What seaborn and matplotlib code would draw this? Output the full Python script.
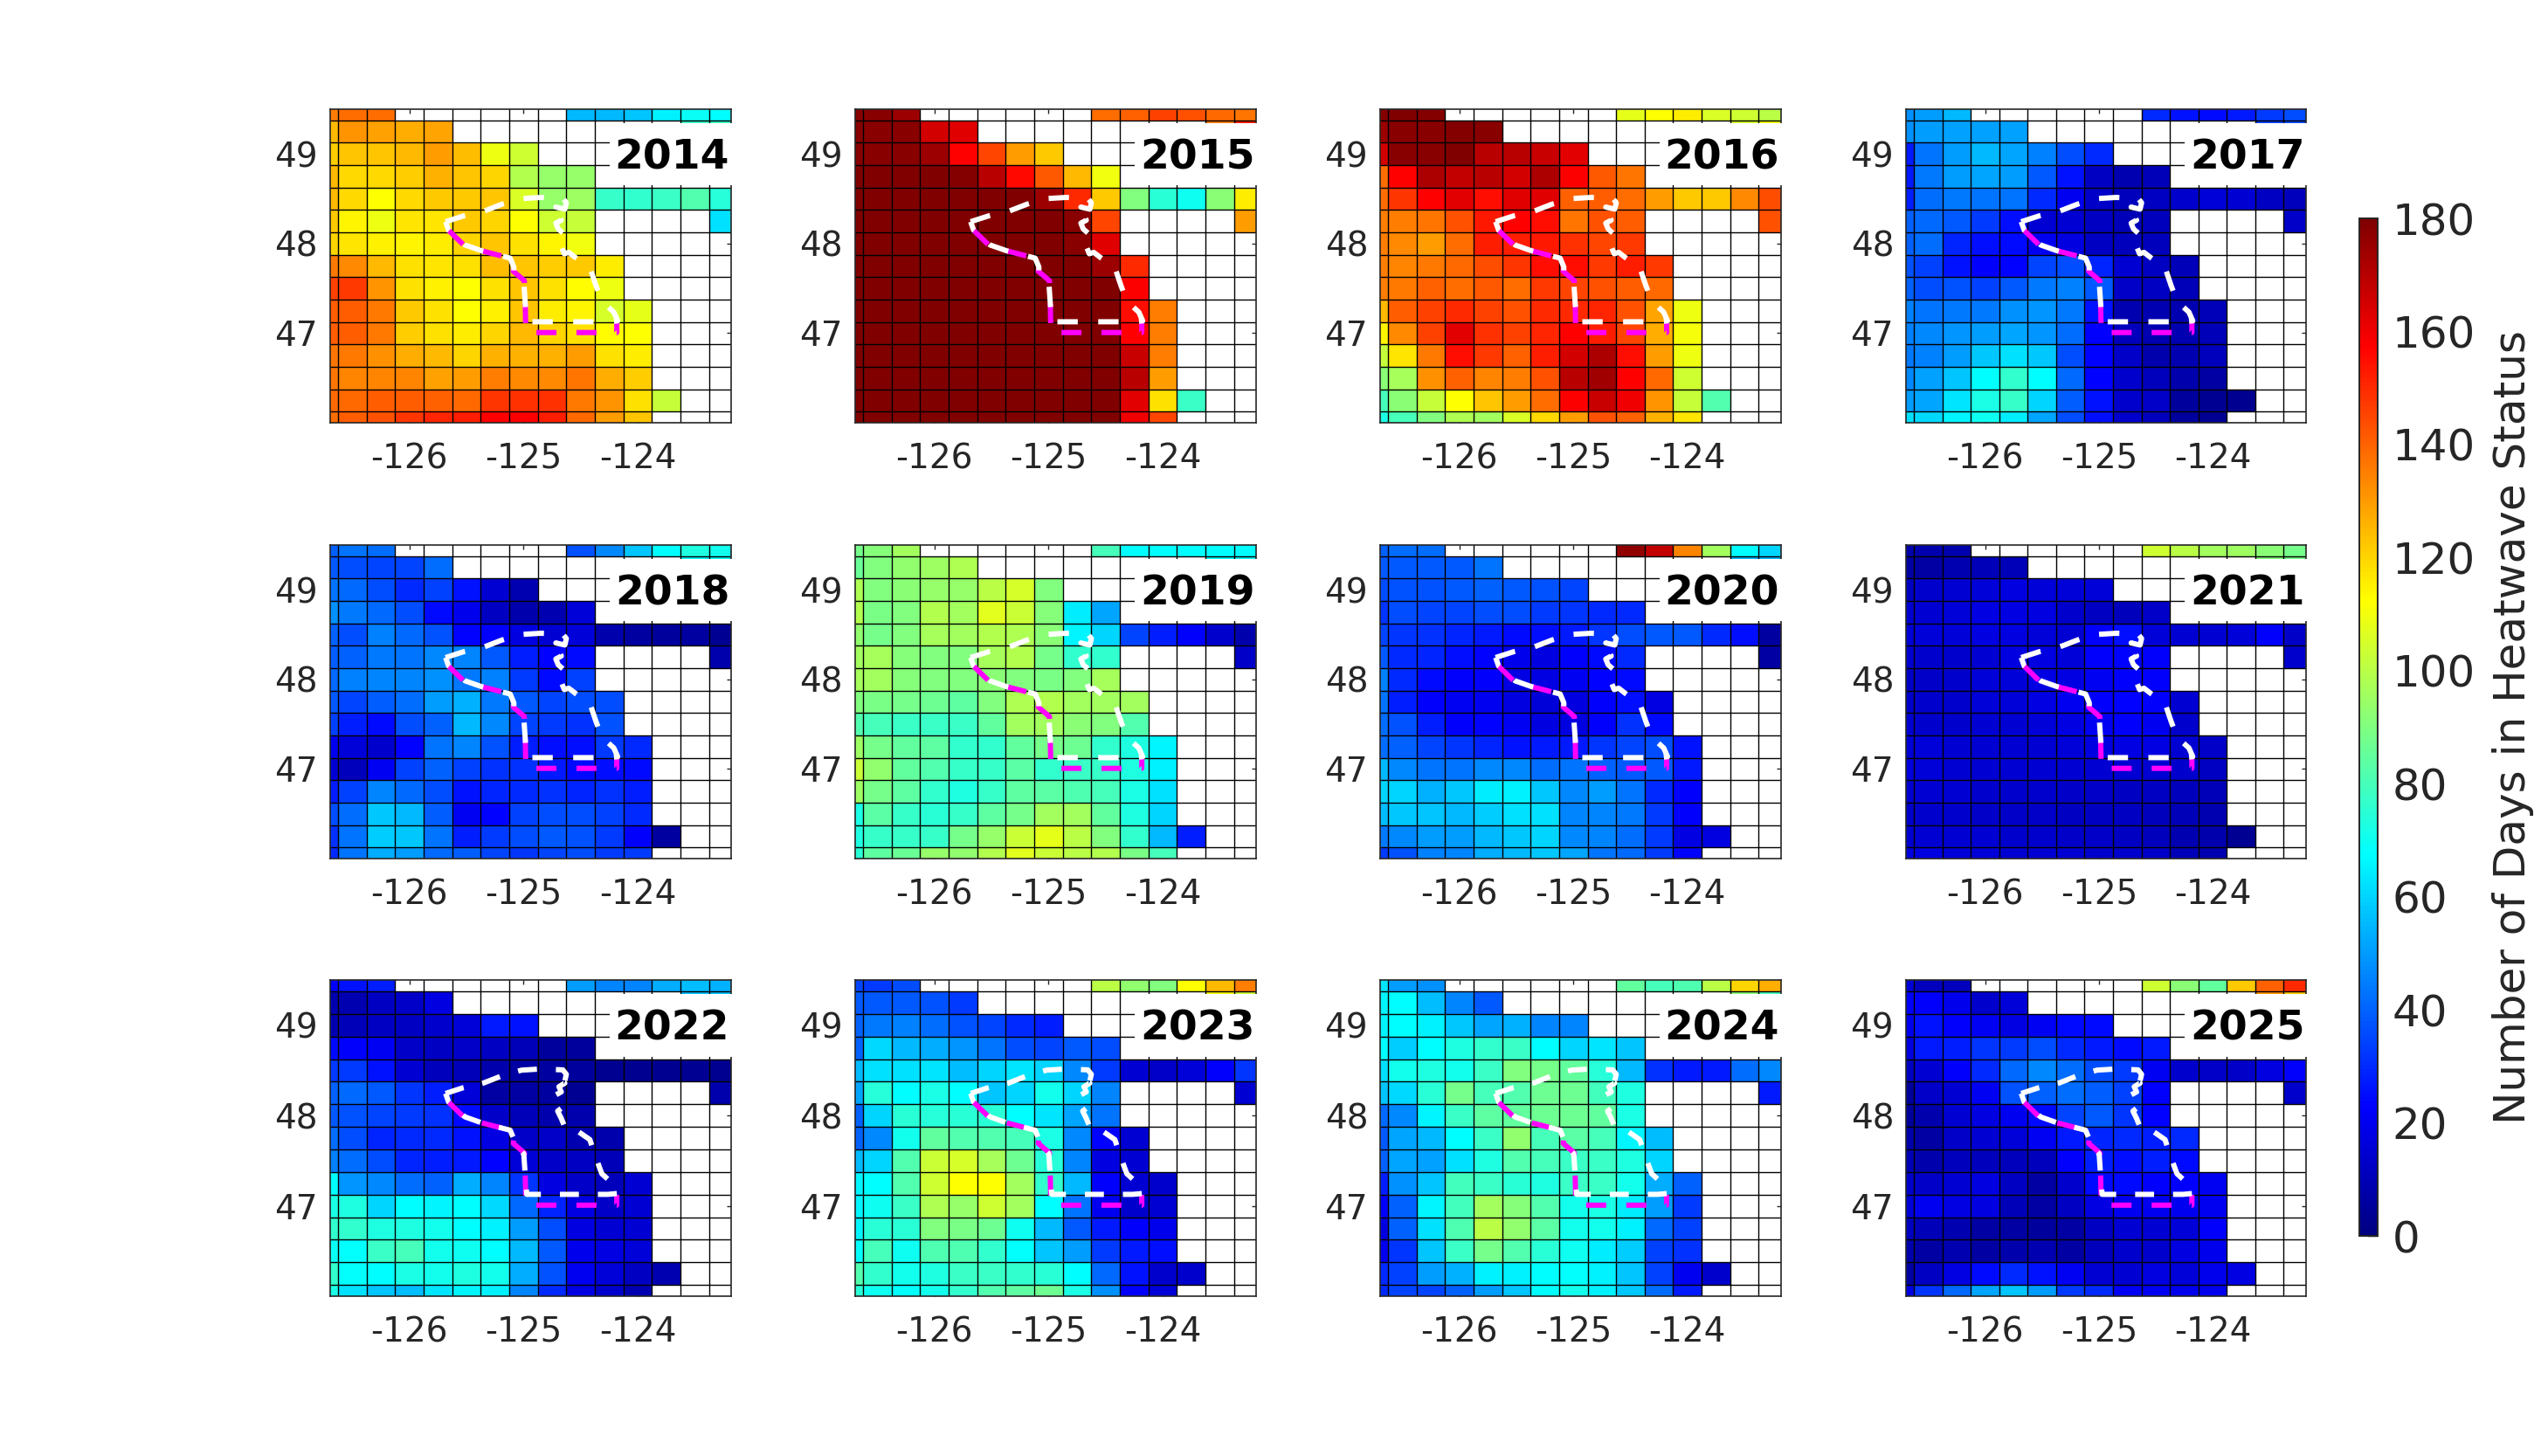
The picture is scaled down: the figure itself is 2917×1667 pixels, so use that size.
import numpy as np
import pandas as pd
import matplotlib
matplotlib.use("Agg")
import matplotlib.pyplot as plt
from matplotlib.colors import LinearSegmentedColormap, Normalize
from matplotlib.cm import ScalarMappable
from matplotlib.patches import Rectangle
import seaborn as sns

years = [2014, 2015, 2016, 2017, 2018, 2019, 2020, 2021, 2022, 2023, 2024, 2025]

# grid cell centres: -126.75 ... -123.25 E, 49.5 ... 46.0 N (0.25 degree cells)
valid_cols = [
    [0, 1, 2, 9, 10, 11, 12, 13, 14],
    [0, 1, 2, 3, 4, 13, 14],
    list(range(8)),
    list(range(10)),
    list(range(15)),
    list(range(10)) + [14],
    list(range(10)),
    list(range(11)),
    list(range(11)),
    list(range(12)),
    list(range(12)),
    list(range(12)),
    list(range(12)),
    list(range(13)),
    list(range(12)),
]

days_2014 = [
    [135, 138, 138, 55, 55, 57, 65, 69, 67],
    [125, 131, 129, 127, 128, 78, 78],
    [121, 123, 123, 125, 130, 124, 109, 104],
    [125, 119, 119, 121, 126, 123, 120, 99, 94, 94],
    [125, 119, 112, 119, 122, 122, 123, 106, 94, 95, 77, 76, 78, 82, 74],
    [122, 114, 109, 117, 117, 122, 120, 112, 104, 102, 62],
    [120, 117, 115, 114, 116, 120, 123, 118, 114, 110],
    [136, 133, 125, 118, 117, 118, 124, 123, 121, 122, 116],
    [146, 147, 131, 118, 115, 112, 118, 123, 118, 113, 109],
    [141, 141, 136, 122, 118, 112, 115, 123, 116, 114, 105, 108],
    [141, 141, 136, 121, 118, 116, 120, 125, 120, 118, 113, 112],
    [137, 136, 132, 127, 125, 120, 126, 126, 126, 130, 118, 116],
    [137, 134, 134, 134, 129, 130, 135, 133, 133, 137, 127, 121],
    [139, 139, 141, 141, 140, 139, 148, 149, 149, 136, 131, 118, 102],
    [138, 141, 143, 148, 151, 152, 157, 157, 152, 139, 130, 123],
]
days_2015 = [
    [178, 178, 175, 138, 140, 146, 143, 139, 137],
    [178, 178, 178, 165, 163, 135, 152],
    [178, 178, 178, 175, 157, 145, 130, 122],
    [180, 180, 180, 180, 179, 170, 156, 142, 125, 110],
    [180, 180, 180, 180, 180, 180, 180, 175, 150, 122, 90, 75, 70, 92, 116],
    [180, 180, 180, 180, 180, 180, 180, 180, 178, 145, 130],
    [180, 180, 180, 180, 180, 180, 180, 180, 178, 163],
    [180, 180, 180, 180, 180, 180, 180, 180, 180, 175, 150],
    [180, 180, 180, 180, 180, 180, 180, 180, 180, 180, 158],
    [180, 180, 180, 180, 180, 180, 180, 180, 180, 180, 155, 135],
    [180, 180, 180, 180, 180, 180, 180, 180, 180, 180, 157, 135],
    [180, 180, 180, 180, 180, 180, 180, 180, 180, 180, 167, 135],
    [180, 180, 180, 180, 180, 180, 180, 180, 180, 180, 170, 130],
    [180, 180, 180, 180, 180, 180, 180, 180, 180, 180, 162, 118, 78],
    [180, 180, 180, 180, 180, 180, 180, 180, 180, 180, 160, 145],
]
days_2016 = [
    [179, 180, 179, 108, 112, 116, 106, 104, 100],
    [175, 178, 178, 179, 178, 105, 110],
    [165, 178, 178, 180, 170, 170, 167, 162],
    [138, 157, 172, 168, 170, 165, 172, 158, 142, 137],
    [138, 148, 157, 162, 155, 163, 163, 140, 141, 138, 130, 122, 122, 133, 144],
    [135, 135, 137, 143, 153, 157, 155, 137, 143, 141, 143],
    [135, 133, 130, 138, 152, 152, 153, 149, 145, 147],
    [135, 134, 136, 139, 144, 148, 155, 155, 147, 152, 147],
    [135, 136, 140, 138, 142, 138, 147, 145, 143, 141, 139],
    [125, 141, 146, 150, 146, 143, 150, 150, 151, 143, 128, 109],
    [114, 133, 146, 162, 149, 146, 151, 157, 152, 145, 127, 111],
    [102, 117, 136, 155, 147, 140, 152, 165, 172, 155, 130, 109],
    [92, 97, 132, 140, 134, 135, 143, 170, 174, 157, 139, 104],
    [80, 92, 102, 112, 123, 130, 138, 158, 167, 160, 131, 102, 82],
    [72, 80, 90, 98, 96, 106, 119, 130, 143, 140, 126, 117],
]
days_2017 = [
    [48, 50, 55, 30, 26, 24, 27, 33, 36],
    [48, 50, 51, 51, 51, 35, 36],
    [27, 43, 50, 55, 52, 45, 36, 30],
    [27, 44, 50, 52, 50, 38, 26, 12, 9, 10],
    [28, 42, 44, 43, 43, 30, 20, 13, 11, 12, 14, 16, 15, 12, 11],
    [40, 41, 38, 33, 25, 15, 15, 12, 10, 11, 13],
    [40, 42, 29, 25, 24, 20, 17, 12, 11, 11],
    [37, 34, 26, 22, 23, 35, 36, 29, 15, 12, 10],
    [40, 36, 37, 34, 38, 44, 45, 38, 13, 12, 10],
    [45, 43, 44, 44, 48, 49, 44, 26, 9, 9, 9, 10],
    [45, 47, 49, 50, 52, 49, 42, 22, 11, 9, 9, 10],
    [44, 45, 50, 58, 62, 58, 36, 23, 13, 8, 9, 11],
    [47, 51, 57, 67, 76, 67, 41, 23, 14, 11, 8, 7],
    [50, 52, 63, 72, 77, 60, 39, 26, 14, 13, 5, 4, 3],
    [62, 61, 66, 70, 64, 52, 36, 25, 14, 11, 5, 4],
]
days_2018 = [
    [40, 43, 42, 37, 47, 57, 67, 73, 71],
    [38, 36, 35, 35, 42, 67, 67],
    [43, 41, 36, 30, 34, 26, 15, 9],
    [48, 44, 41, 36, 24, 19, 12, 8, 9, 16],
    [40, 36, 45, 41, 37, 23, 22, 17, 15, 16, 8, 6, 5, 6, 4],
    [39, 40, 44, 43, 47, 46, 38, 28, 23, 24, 8],
    [41, 45, 46, 46, 48, 44, 45, 33, 24, 34],
    [38, 35, 39, 42, 50, 54, 44, 38, 35, 36, 36],
    [34, 28, 24, 36, 40, 55, 47, 35, 33, 31, 37],
    [20, 16, 14, 23, 43, 46, 37, 28, 25, 25, 33, 30],
    [15, 11, 21, 34, 40, 34, 31, 31, 27, 24, 25, 24],
    [28, 34, 46, 41, 36, 26, 29, 30, 31, 29, 31, 28],
    [36, 42, 58, 55, 39, 21, 23, 34, 36, 36, 34, 30],
    [31, 43, 59, 58, 43, 28, 33, 36, 38, 37, 33, 22, 6],
    [30, 43, 53, 50, 41, 39, 35, 32, 35, 36, 33, 33],
]
days_2019 = [
    [88, 91, 96, 80, 67, 67, 67, 67, 67],
    [86, 90, 93, 95, 98, 67, 67],
    [98, 90, 92, 94, 94, 100, 105, 90],
    [99, 89, 90, 99, 96, 107, 103, 91, 64, 52],
    [93, 88, 90, 97, 96, 99, 98, 92, 66, 60, 35, 28, 22, 14, 8],
    [96, 97, 91, 90, 90, 97, 99, 88, 76, 76, 13],
    [97, 96, 91, 90, 90, 92, 90, 89, 90, 97],
    [90, 89, 88, 87, 84, 90, 98, 99, 96, 96, 96],
    [82, 80, 78, 78, 78, 85, 96, 96, 92, 90, 82],
    [95, 88, 85, 84, 76, 76, 85, 88, 87, 76, 73, 66],
    [103, 93, 85, 82, 77, 77, 83, 76, 78, 77, 73, 65],
    [95, 88, 84, 76, 73, 77, 84, 83, 81, 80, 72, 62],
    [72, 83, 77, 75, 77, 84, 88, 96, 96, 85, 73, 60],
    [73, 77, 77, 77, 88, 94, 103, 108, 100, 90, 76, 55, 28],
    [75, 84, 86, 94, 93, 99, 107, 103, 100, 99, 89, 80],
]
days_2020 = [
    [40, 42, 42, 177, 168, 134, 96, 67, 60],
    [38, 38, 38, 38, 43, 55, 55],
    [36, 37, 37, 38, 40, 38, 37, 35],
    [32, 36, 35, 35, 36, 36, 33, 32, 30, 30],
    [35, 32, 31, 29, 27, 24, 25, 27, 32, 36, 38, 38, 30, 25, 6],
    [38, 30, 29, 25, 23, 19, 17, 22, 24, 30, 7],
    [45, 30, 24, 22, 22, 18, 18, 21, 23, 24],
    [43, 28, 22, 21, 20, 17, 16, 17, 22, 25, 18],
    [42, 37, 28, 22, 23, 21, 17, 17, 22, 31, 24],
    [42, 40, 35, 32, 29, 26, 27, 27, 32, 35, 36, 26],
    [55, 47, 43, 43, 47, 47, 42, 43, 40, 38, 38, 27],
    [60, 60, 54, 58, 64, 65, 58, 47, 50, 43, 30, 22],
    [56, 58, 57, 55, 59, 62, 62, 46, 46, 44, 33, 22],
    [44, 47, 50, 50, 55, 58, 60, 47, 46, 42, 33, 18, 17],
    [33, 37, 45, 46, 53, 55, 58, 52, 43, 41, 33, 22],
]
days_2021 = [
    [8, 8, 8, 104, 100, 96, 95, 92, 88],
    [7, 7, 9, 10, 10, 90, 88],
    [12, 14, 15, 16, 17, 16, 16, 16],
    [15, 15, 16, 18, 18, 17, 14, 12, 11, 13],
    [16, 16, 16, 17, 17, 16, 15, 22, 25, 16, 15, 15, 16, 22, 13],
    [15, 14, 14, 15, 17, 17, 16, 22, 23, 22, 14],
    [13, 13, 14, 16, 16, 18, 18, 21, 22, 22],
    [14, 14, 14, 16, 16, 18, 20, 22, 23, 22, 15],
    [15, 14, 14, 15, 15, 16, 18, 21, 22, 20, 14],
    [16, 16, 15, 15, 15, 15, 16, 17, 18, 18, 15, 13],
    [17, 16, 15, 15, 15, 15, 15, 15, 15, 15, 14, 12],
    [15, 15, 15, 14, 14, 14, 13, 13, 12, 12, 11, 10],
    [14, 14, 14, 13, 13, 13, 12, 12, 12, 11, 10, 9],
    [15, 15, 15, 15, 14, 14, 13, 13, 12, 11, 9, 8, 4],
    [17, 17, 16, 16, 15, 15, 15, 14, 14, 13, 10, 9],
]
days_2022 = [
    [22, 26, 28, 50, 46, 46, 53, 56, 54],
    [9, 9, 12, 13, 17, 56, 56],
    [9, 10, 12, 12, 14, 16, 27, 26],
    [24, 22, 21, 13, 12, 13, 12, 10, 5, 5],
    [33, 33, 26, 15, 11, 10, 8, 7, 6, 5, 3, 3, 3, 4, 3],
    [40, 41, 38, 32, 28, 16, 7, 7, 6, 4, 8],
    [38, 37, 35, 33, 31, 24, 13, 10, 8, 8],
    [42, 36, 29, 30, 30, 26, 18, 13, 13, 9, 8],
    [45, 42, 36, 29, 28, 27, 23, 16, 13, 12, 10],
    [67, 49, 47, 42, 40, 53, 46, 32, 17, 13, 11, 15],
    [72, 73, 60, 67, 66, 67, 61, 41, 29, 18, 13, 15],
    [76, 76, 73, 73, 71, 67, 65, 50, 36, 17, 15, 15],
    [69, 68, 78, 80, 71, 70, 67, 55, 38, 19, 18, 16],
    [76, 68, 67, 72, 71, 73, 71, 53, 37, 20, 16, 12, 9],
    [72, 62, 57, 56, 63, 66, 65, 46, 30, 18, 14, 9],
]
days_2023 = [
    [35, 33, 36, 100, 93, 90, 112, 125, 135],
    [38, 38, 38, 37, 33, 112, 103],
    [40, 44, 45, 42, 37, 35, 30, 28],
    [40, 61, 55, 53, 49, 43, 36, 35, 38, 36],
    [55, 62, 62, 63, 56, 60, 63, 60, 47, 33, 15, 13, 16, 22, 32],
    [52, 74, 67, 72, 67, 57, 60, 71, 60, 46, 15],
    [40, 60, 75, 74, 75, 75, 67, 63, 52, 43],
    [40, 47, 71, 85, 82, 82, 80, 72, 47, 23, 15],
    [55, 60, 82, 103, 105, 97, 87, 74, 46, 17, 15],
    [66, 67, 82, 104, 112, 112, 96, 76, 55, 22, 15, 14],
    [66, 70, 78, 98, 94, 104, 96, 67, 43, 20, 14, 15],
    [66, 75, 75, 90, 89, 87, 70, 55, 38, 27, 22, 19],
    [68, 80, 70, 81, 81, 76, 68, 57, 50, 33, 27, 25],
    [82, 76, 71, 73, 78, 78, 76, 75, 67, 41, 26, 14, 14],
    [75, 70, 68, 71, 76, 82, 84, 87, 72, 48, 22, 16],
]
days_2024 = [
    [63, 50, 48, 85, 80, 81, 100, 120, 127],
    [66, 67, 56, 46, 38, 92, 80],
    [66, 67, 65, 58, 52, 54, 46, 46],
    [67, 59, 67, 73, 76, 78, 67, 60, 63, 57],
    [62, 71, 73, 71, 78, 90, 88, 85, 74, 55, 31, 27, 27, 42, 47],
    [57, 61, 75, 88, 80, 82, 87, 87, 79, 73, 27],
    [41, 47, 66, 78, 84, 85, 87, 87, 85, 72],
    [38, 52, 55, 67, 78, 93, 80, 83, 80, 66, 56],
    [40, 52, 51, 62, 73, 82, 80, 78, 78, 73, 60],
    [28, 48, 57, 79, 78, 75, 73, 78, 78, 71, 53, 40],
    [22, 40, 66, 79, 96, 91, 82, 71, 72, 64, 50, 33],
    [18, 40, 62, 81, 100, 93, 83, 71, 71, 65, 41, 34],
    [20, 32, 57, 78, 88, 82, 75, 70, 64, 59, 34, 31],
    [30, 34, 50, 54, 65, 65, 67, 68, 65, 57, 34, 20, 14],
    [30, 35, 35, 40, 50, 57, 67, 71, 65, 58, 42, 27],
]
days_2025 = [
    [16, 11, 11, 104, 92, 85, 122, 140, 150],
    [22, 22, 19, 14, 16, 132, 122],
    [20, 26, 22, 21, 18, 21, 24, 24],
    [17, 27, 28, 32, 33, 36, 30, 27, 24, 27],
    [12, 15, 22, 30, 41, 47, 42, 36, 33, 21, 14, 13, 13, 17, 22],
    [5, 13, 15, 21, 37, 40, 42, 39, 34, 22, 14],
    [5, 8, 15, 17, 20, 24, 35, 38, 32, 23],
    [8, 7, 13, 15, 16, 21, 27, 29, 30, 28, 30],
    [10, 8, 11, 11, 11, 11, 22, 28, 25, 28, 24],
    [14, 13, 15, 17, 12, 7, 14, 24, 24, 22, 22, 21],
    [16, 20, 18, 17, 10, 7, 12, 18, 20, 20, 20, 20],
    [12, 10, 9, 7, 7, 5, 7, 12, 15, 15, 16, 22],
    [8, 7, 9, 7, 8, 9, 7, 11, 14, 14, 17, 19],
    [7, 12, 18, 24, 30, 26, 21, 15, 15, 17, 16, 19, 18],
    [18, 32, 41, 52, 57, 50, 33, 30, 21, 20, 19, 19],
]
all_days = [days_2014, days_2015, days_2016, days_2017, days_2018, days_2019,
            days_2020, days_2021, days_2022, days_2023, days_2024, days_2025]

outline_lon = [-125.682, -125.524, -125.353, -125.187, -125.016, -124.847, -124.655,
               -124.624, -124.637, -124.716, -124.637, -124.689, -124.668, -124.716,
               -124.695, -124.642, -124.700, -124.668, -124.642, -124.603, -124.537,
               -124.418, -124.366, -124.313, -124.208, -124.174, -124.261, -124.971,
               -124.984, -124.997, -125.084, -125.084, -125.116, -125.366, -125.511,
               -125.655, -125.682]
outline_lat = [48.244, 48.309, 48.358, 48.440, 48.502, 48.515, 48.505,
               48.456, 48.384, 48.407, 48.358, 48.319, 48.261, 48.228,
               48.163, 48.104, 48.049, 47.967, 47.886, 47.902, 47.837,
               47.733, 47.537, 47.355, 47.235, 47.137, 47.127, 47.127,
               47.332, 47.577, 47.691, 47.739, 47.837, 47.919, 47.984,
               48.147, 48.244]
coast_lon = [-125.655, -125.524, -125.366, -125.116, -125.084, -125.089, -124.992,
             -124.984, -124.979, -124.182, -124.182]
coast_lat = [48.147, 47.984, 47.919, 47.837, 47.739, 47.691, 47.586,
             47.332, 47.007, 47.007, 47.121]

lon_ticks = [-126, -125, -124]
lat_ticks = [47, 48, 49]

cmap = LinearSegmentedColormap.from_list(
    "matlab_jet",
    [(0, (0, 0, .5)), (1 / 8, (0, 0, 1)), (3 / 8, (0, 1, 1)),
     (5 / 8, (1, 1, 0)), (7 / 8, (1, 0, 0)), (1, (.5, 0, 0))], N=256)

sns.set_theme(style="white")
plt.rcParams["font.family"] = ["DejaVu Sans"]
INK = "#262626"
W, H = 2917, 1667
fig = plt.figure(figsize=(W / 200, H / 200), dpi=200, facecolor="white")

col_px = [(377.8, 837), (978.9, 1438), (1580, 2038.8), (2182, 2639.8)]
row_px = [(125, 484), (624, 983), (1122, 1484)]
LINE_PX = 6.0
LINE_PT = LINE_PX * 72 / 200


def to_x(lon):
    return (np.asarray(lon) + 126.875) / 0.25


def to_y(lat):
    return (49.625 - np.asarray(lat)) / 0.25


def fitted_dash(ax, xs, ys, tail_px, period_px=45.0):
    """Dash pattern whose period lets the path finish on a short dash of tail_px."""
    pts = ax.transData.transform(np.column_stack([xs, ys]))
    length = np.hypot(*np.diff(pts, axis=0).T).sum()
    n = max(1, round((length - tail_px) / period_px))
    unit = (length - tail_px) / n / 2 / LINE_PX
    return (0, (unit, unit))


for i, (year, rows) in enumerate(zip(years, all_days)):
    grid = np.full((15, 15), np.nan)
    for r, (cols, vals) in enumerate(zip(valid_cols, rows, strict=True)):
        for c, v in zip(cols, vals, strict=True):
            grid[r, c] = v
    x0, x1 = col_px[i % 4]
    y0, y1 = row_px[i // 4]
    ax = fig.add_axes([x0 / W, 1 - y1 / H, (x1 - x0) / W, (y1 - y0) / H])
    sns.heatmap(pd.DataFrame(grid), ax=ax, cmap=cmap, vmin=0, vmax=180, cbar=False,
                xticklabels=False, yticklabels=False, linewidths=0)
    ax.set_axisbelow(True)
    ax.set_xticks(to_x(lon_ticks))
    ax.set_xticklabels([str(v) for v in lon_ticks], fontsize=14, color=INK)
    ax.set_yticks(to_y(lat_ticks))
    ax.set_yticklabels([str(v) for v in lat_ticks], fontsize=14, color=INK, rotation=0)
    ax.tick_params(axis="both", direction="in", length=1.8, width=0.5, color=INK,
                   top=True, right=True, bottom=True, left=True)
    ax.tick_params(axis="x", pad=8)
    ax.tick_params(axis="y", pad=5)
    ax.set_xlabel("")
    ax.set_ylabel("")
    ax.vlines(np.arange(1, 15), 0, 15, color="black", lw=0.5, zorder=2)
    ax.hlines(np.arange(1, 15), 0, 15, color="black", lw=0.5, zorder=2)
    ax.set_xlim(to_x(-126.695), to_x(-123.18))
    ax.set_ylim(to_y(46.0), to_y(49.5))
    for s in ax.spines.values():
        s.set_visible(True)
        s.set_color(INK)
        s.set_linewidth(0.6)
    cx, cy = to_x(coast_lon), to_y(coast_lat)
    ox, oy = to_x(outline_lon), to_y(outline_lat)
    ax.plot(cx, cy, color="#ff00ff", lw=LINE_PT, ls=fitted_dash(ax, cx, cy, 12),
            dash_capstyle="butt", zorder=3, clip_on=False)
    ax.plot(ox, oy, color="white", lw=LINE_PT, ls=fitted_dash(ax, ox, oy, 11),
            dash_capstyle="butt", zorder=3.1, clip_on=False)
    ax.add_patch(Rectangle((0.697, 0.757), 0.31, 0.199, transform=ax.transAxes,
                           facecolor="white", edgecolor="none", zorder=4, clip_on=False))
    ax.text(0.853, 0.845, str(year), transform=ax.transAxes, ha="center", va="center",
            fontsize=17, fontweight="bold", color="black", zorder=5)

cax = fig.add_axes([2701 / W, 1 - 1415 / H, 21 / W, 1165 / H])
sm = ScalarMappable(norm=Normalize(0, 180), cmap=cmap)
cbar = fig.colorbar(sm, cax=cax, ticks=np.arange(0, 181, 20))
cbar.ax.tick_params(direction="in", length=4.3, width=0.5, color="black", labelsize=18,
                    labelcolor=INK, pad=6)
cbar.outline.set_edgecolor(INK)
cbar.outline.set_linewidth(0.7)
cbar.set_label("Number of Days in Heatwave Status", fontsize=18, color=INK, labelpad=7)

fig.savefig("out.png", dpi=200, facecolor="white")
